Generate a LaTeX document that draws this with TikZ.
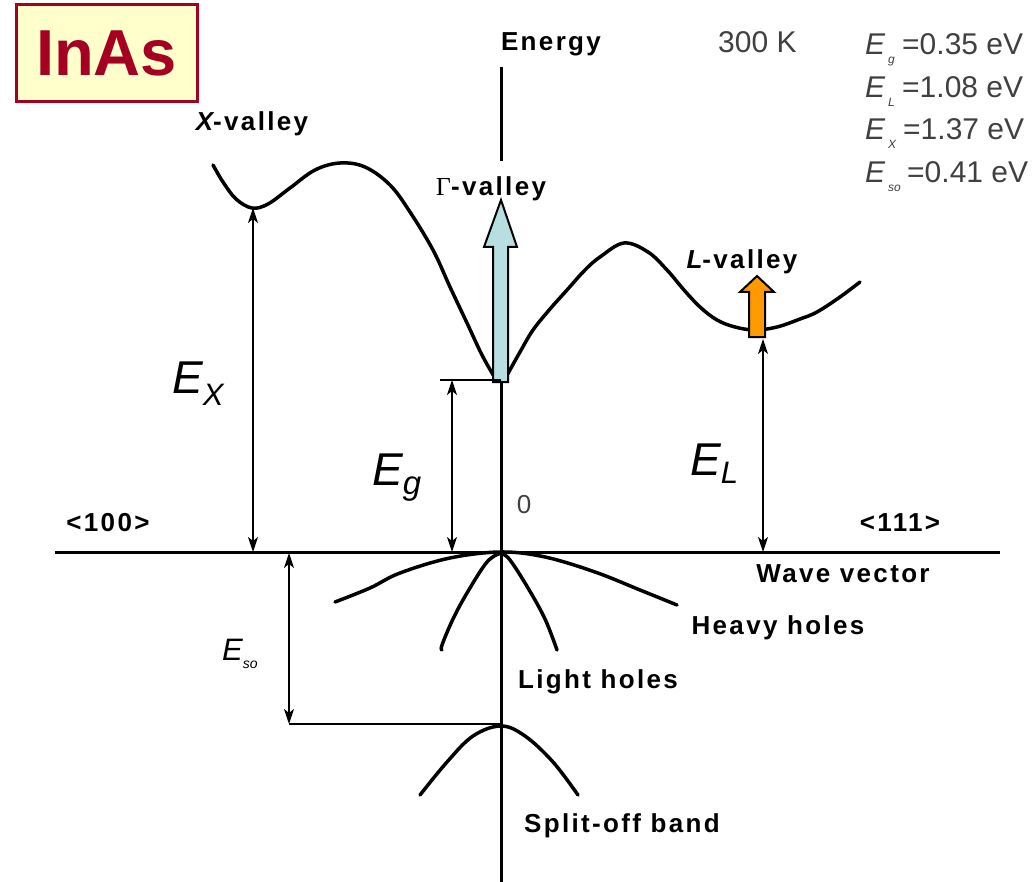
\documentclass[tikz,border=0pt]{standalone}
\usepackage{fontspec}
\setmainfont{Liberation Sans}
\newfontfamily\lblfont[LetterSpace=9]{Liberation Sans}
\newfontfamily\grkfont{Liberation Serif}
\usetikzlibrary{arrows.meta}
\definecolor{inasred}{HTML}{A50021}
\definecolor{inasbg}{HTML}{FFFFCC}
\definecolor{gammablue}{HTML}{B7DEE0}
\definecolor{lorange}{HTML}{FF9900}
\definecolor{valgray}{HTML}{404040}

\begin{document}
\begin{tikzpicture}[x=1pt, y=-1pt, >={Stealth[length=15pt,width=10pt,inset=4pt]},
  band/.style={line width=3.5pt, line join=round, line cap=round},
  axis/.style={line width=3pt},
  dim/.style={<->, line width=1.5pt},
  lbl/.style={font=\fontsize{26}{26}\selectfont\lblfont\bfseries, inner sep=0pt},
  val/.style={font=\fontsize{30}{30}\selectfont, text=valgray, inner sep=0pt, anchor=base west},
  bigE/.style={font=\fontsize{46}{46}\selectfont\itshape, inner sep=0pt, anchor=base west},
  blockarrow/.style={draw=black, line width=2pt, line join=miter}]
  \useasboundingbox (0,0) rectangle (1035,882);

  % title
  \node[draw=inasred, line width=3pt, fill=inasbg, minimum width=181pt, minimum height=97pt, inner sep=0pt,
        font=\fontsize{65}{65}\selectfont\bfseries, text=inasred] (title) at (106.5,53.5) {InAs};

  % axes
  \coordinate (axL) at (55,552);
  \coordinate (axR) at (1000,552);
  \coordinate (axT) at (501,67);
  \coordinate (axM) at (501,161);
  \coordinate (axB) at (501,882);
  \coordinate (Gbase) at (501,380);
  \draw[axis] (axL) -- (axR);
  \draw[axis] (axT) -- (axM);
  \draw[axis] (Gbase) -- (axB);

  % conduction band
  \draw[band] plot[smooth, tension=0.6] coordinates {(213,165) (223,182) (236,199) (252,208) (268,204) (290,188)
    (315,170) (340,163) (365,167) (390,185) (410,212) (433,250) (450,287) (467,323) (482,355) (495,378)};
  \draw[band] plot[smooth, tension=0.6] coordinates {(506,377) (520,352) (533,330) (550,309) (567,290) (585,270)
    (600,257) (624,243) (648,252) (667,270) (684,290) (700,307) (717,320) (735,327) (755,330) (777,327)
    (800,319) (817,312) (840,297) (860,282)};

  % valence bands
  \draw[band] plot[smooth, tension=0.6] coordinates {(335,602) (370,588) (400,573) (450,558) (501,552)
    (545,557) (595,572) (640,590) (677,605)};
  \draw[band] plot[smooth, tension=0.6] coordinates {(501,553) (487,562) (467,593) (453,619) (442,645) (442,650)};
  \draw[band] plot[smooth, tension=0.6] coordinates {(501,553) (510,560) (528,588) (545,619) (557,650)};
  \draw[band] plot[smooth, tension=0.6] coordinates {(420,795) (447,762) (473,736) (501,726) (525,736) (553,762) (578,795)};

  % valley arrows
  \draw[blockarrow, fill=gammablue] (493,382) -- (493,247) -- (484,247) -- (501,200) -- (517,247)
    -- (508,247) -- (508,382) -- cycle;
  \draw[blockarrow, fill=lorange] (749,337) -- (749,292) -- (740,292) -- (757,276) -- (774,292)
    -- (765,292) -- (765,337) -- cycle;

  % energy gaps
  \coordinate (Xmin) at (253,208);
  \coordinate (Xbase) at (253,552);
  \coordinate (Gtick) at (440,380);
  \coordinate (EgT) at (452,380);
  \coordinate (EgB) at (452,552);
  \coordinate (Lmin) at (763,339);
  \coordinate (Lbase) at (763,552);
  \coordinate (SOtick) at (289,724);
  \coordinate (SOtop) at (501,724);
  \coordinate (SObase) at (289,553);
  \draw[dim] (Xmin) -- (Xbase);
  \draw[line width=1.5pt] (Gtick) -- (Gbase);
  \draw[dim] (EgT) -- (EgB);
  \draw[dim] (Lmin) -- (Lbase);
  \draw[line width=1.2pt] (SOtick) -- (SOtop);
  \draw[dim] (SObase) -- (SOtick);

  % gap labels
  \node[bigE] (EX) at (172,393) {E\raisebox{-12pt}{\fontsize{31}{31}\selectfont X}};
  \node[bigE] (Eg) at (372,485) {E\raisebox{-9pt}{\fontsize{33}{33}\selectfont g}};
  \node[bigE] (EL) at (690,475) {E\raisebox{-8pt}{\fontsize{31}{31}\selectfont L}};
  \node[bigE, font=\fontsize{31}{31}\selectfont\itshape] (Eso) at (222,660) {E\raisebox{-8pt}{\fontsize{14}{14}\selectfont so}};

  % band labels
  \node[lbl] (Xval) at (252,124) {{\itshape X}-valley};
  \node[lbl] (Gval) at (491,189) {{\grkfont\mdseries Γ}-valley};
  \node[lbl] (Lval) at (742,262) {{\itshape L}-valley};
  \node[lbl] (energy) at (551,44) {Energy};
  \node[lbl] (dir100) at (108,523) {<100>};
  \node[lbl] (dir111) at (900,523) {<111>};
  \node[lbl] (wave) at (843,574) {Wave vector};
  \node[lbl] (heavy) at (778,628) {Heavy holes};
  \node[lbl] (light) at (598,682) {Light holes};
  \node[lbl] (split) at (622,826) {Split-off band};
  \node[val, anchor=center, font=\fontsize{26}{26}\selectfont] (zero) at (524,505) {0};

  % values at 300 K
  \node[val] (temp) at (718,53) {300 K};
  \foreach \sub/\val/\y/\vx [count=\n] in {g/0.35/55/902, L/1.08/98/902, X/1.37/140/903, so/0.41/183/907}{
    \node[val, font=\fontsize{30}{30}\selectfont\itshape] (vE\n) at (865,\y) {E};
    \node[val, font=\fontsize{12}{12}\selectfont\itshape] (vS\n) at (888,\y+9) {\sub};
    \node[val] (vV\n) at (\vx,\y) {=\val\ eV};
  }
\end{tikzpicture}
\end{document}
